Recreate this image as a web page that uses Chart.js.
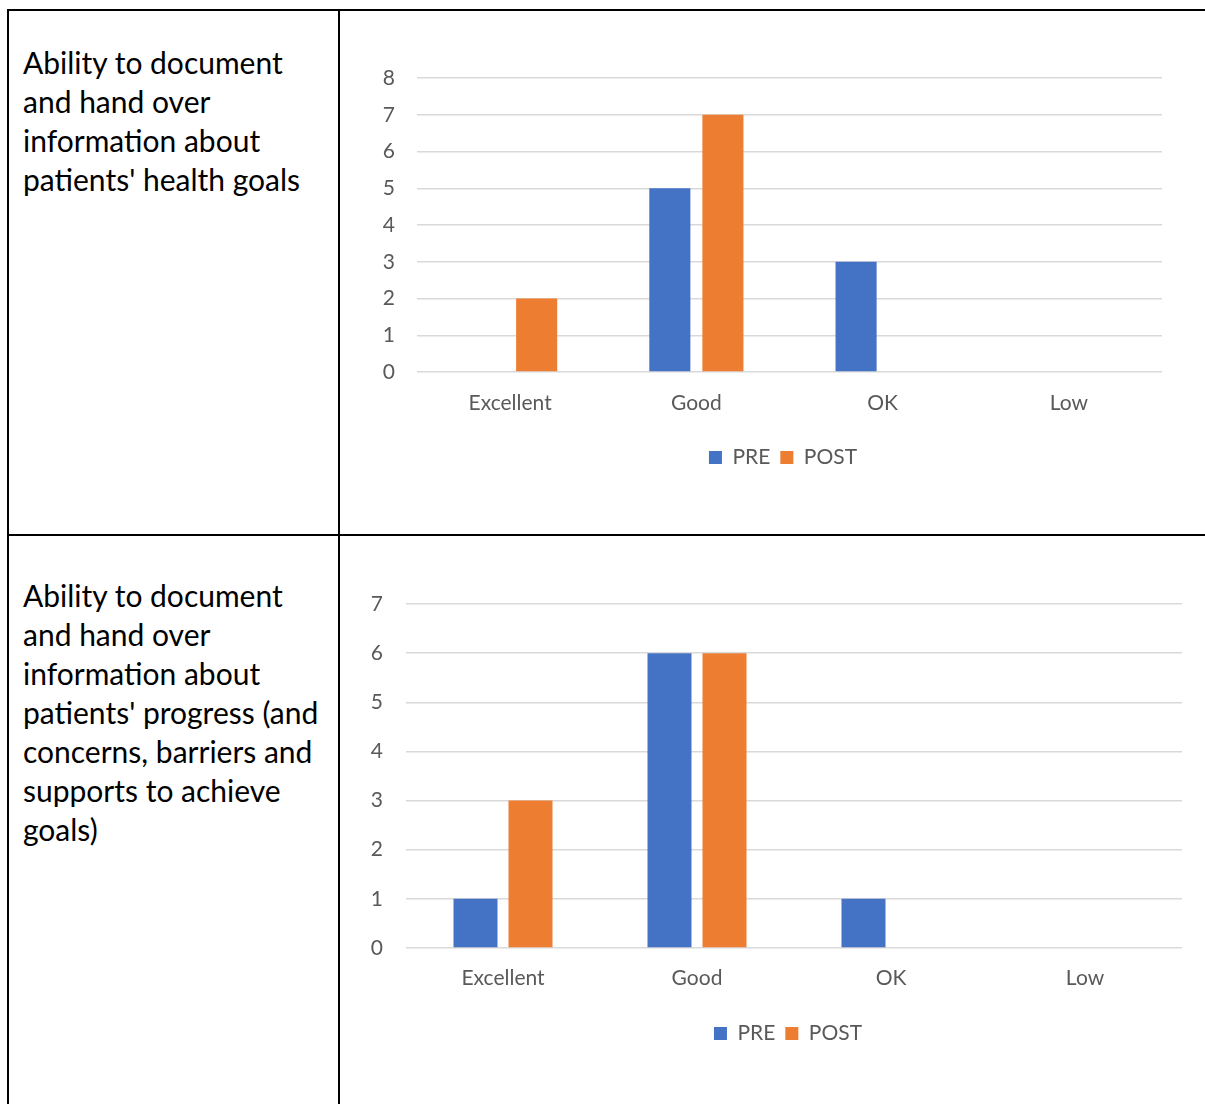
<!DOCTYPE html>
<html>
<head>
<meta charset="utf-8">
<script src="https://cdn.jsdelivr.net/npm/chart.js@4.4.1/dist/chart.umd.min.js"></script>
<style>
  html, body { margin: 0; padding: 0; background: #fff; overflow: hidden; }
  body { width: 1205px; height: 1104px; position: relative; font-family: Lato, "Open Sans", sans-serif; }
  .rule { position: absolute; background: #000; }
  .label { position: absolute; left: 23px; white-space: nowrap; font-size: 30px; line-height: 39px; color: #000; }
  canvas { position: absolute; }
</style>
</head>
<body>
<div class="rule" style="left:7px; top:9px; width:1198px; height:2px;"></div>
<div class="rule" style="left:7px; top:534px; width:1198px; height:2px;"></div>
<div class="rule" style="left:7px; top:9px; width:2px; height:1095px;"></div>
<div class="rule" style="left:338px; top:9px; width:2px; height:1095px;"></div>

<div class="label" style="top:43px;">Ability to document<br>and hand over<br>information about<br>patients' health goals</div>
<div class="label" style="top:576px;">Ability to document<br>and hand over<br>information about<br>patients' progress (and<br>concerns, barriers and<br>supports to achieve<br>goals)</div>

<canvas id="goals" width="865" height="523" style="left:340px; top:11px;"></canvas>
<canvas id="progress" width="865" height="568" style="left:340px; top:536px;"></canvas>

<script>
const categories = ['Excellent', 'Good', 'OK', 'Low'];
const seriesNames = ['PRE', 'POST'];

// Health goals ratings
const goalsPre = [0, 5, 3, 0];
const goalsPost = [2, 7, 0, 0];
const goalsTicksMax = 8;

// Progress / concerns / barriers ratings
const progressPre = [1, 6, 1, 0];
const progressPost = [3, 6, 0, 0];
const progressTicksMax = 7;

const BLUE = '#4472C4';
const ORANGE = '#ED7D31';
const TEXT = '#595959';
const GRID = '#D9D9D9';
const FONT = 'Lato, "Open Sans", sans-serif';
const FONT_SIZE = 21;

// Nudges the bottom legend sideways so it sits under the plot area.
const legendShift = {
  id: 'legendShift',
  afterLayout(chart, args, opts) {
    const lg = chart.legend;
    if (lg && opts.dx) { lg.left += opts.dx; lg.right += opts.dx; }
  }
};

function makeChart(id, pre, post, yMax, g) {
  return new Chart(document.getElementById(id), {
    type: 'bar',
    data: {
      labels: categories,
      datasets: [
        { label: seriesNames[0], data: pre, backgroundColor: BLUE, borderWidth: 0,
          categoryPercentage: g.catPct, barPercentage: g.barPct },
        { label: seriesNames[1], data: post, backgroundColor: ORANGE, borderWidth: 0,
          categoryPercentage: g.catPct, barPercentage: g.barPct }
      ]
    },
    plugins: [legendShift],
    options: {
      responsive: false,
      animation: false,
      layout: { padding: { left: 0, right: g.padR, top: g.padT, bottom: g.padB } },
      plugins: {
        tooltip: { enabled: false },
        legendShift: { dx: g.legendDx },
        legend: {
          position: 'bottom',
          labels: { color: TEXT, font: { family: FONT, size: FONT_SIZE }, boxWidth: 13, boxHeight: 13, padding: 10 }
        }
      },
      scales: {
        x: {
          grid: { display: false, drawTicks: false },
          border: { display: false },
          ticks: { color: TEXT, font: { family: FONT, size: FONT_SIZE }, padding: g.xTickPad, maxRotation: 0 },
          afterFit(scale) { scale.height = g.xHeight; }
        },
        y: {
          min: 0, max: yMax,
          grid: { color: GRID, lineWidth: 1.5, drawTicks: false },
          border: { display: false },
          ticks: { stepSize: 1, color: TEXT, font: { family: FONT, size: FONT_SIZE }, padding: g.yTickPad },
          afterFit(scale) { scale.width = g.yWidth; }
        }
      }
    }
  });
}

makeChart('goals', goalsPre, goalsPost, goalsTicksMax, {
  catPct: 0.57, barPct: 0.774,
  padR: 43, padT: 67, padB: 56, legendDx: 32,
  yWidth: 77, yTickPad: 22, xHeight: 65, xTickPad: 19
});

makeChart('progress', progressPre, progressPost, progressTicksMax, {
  catPct: 0.567, barPct: 0.8,
  padR: 23, padT: 68, padB: 50, legendDx: 27,
  yWidth: 66, yTickPad: 23, xHeight: 65, xTickPad: 18
});
</script>
</body>
</html>
